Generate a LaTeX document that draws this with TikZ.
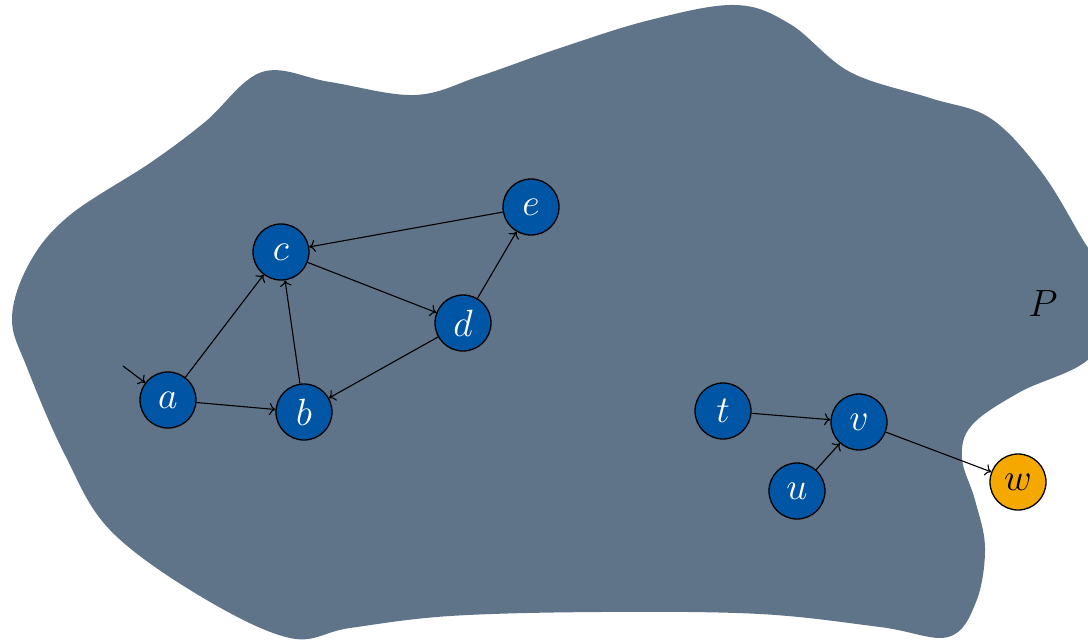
\documentclass[tikz,border=0pt]{standalone}
\usepackage{fix-cm}
\usepackage{amsmath, amssymb}
\usepackage{tikz}
\usetikzlibrary{arrows.meta}
\usepackage{xcolor}

\definecolor{regionfill}{RGB}{95,116,137}
\definecolor{vertexblue}{RGB}{0,85,164}
\definecolor{vertexorange}{RGB}{245,168,0}

\begin{document}
\begin{tikzpicture}[x=1pt, y=-1pt, ->, >={To[length=6pt, width=12pt]},
        line width=1.1pt]
    \tikzstyle{vertex} = [circle, draw, line width=1.3pt, fill=vertexblue,
        text=white, minimum size=56pt, inner sep=0pt,
        font=\fontsize{38}{40}\selectfont]
    \tikzstyle{outside} = [vertex, fill=vertexorange, text=black]
    \useasboundingbox (0,0) rectangle (1088,641);
    \clip (0,0) rectangle (1088,641);
    % the region P
    \fill[regionfill] plot[smooth cycle, tension=0.6] coordinates {
        (262,72) (330,82) (415,95) (480,76) (560,48) (650,20) (735,5)
        (790,24) (850,72) (930,98) (990,118) (1040,170) (1080,235)
        (1115,300) (1090,358) (1020,392) (972,425) (962,458) (975,500)
        (985,548) (976,602) (948,637) (880,627) (760,614) (600,612)
        (450,616) (350,628) (290,638) (200,596) (110,530) (65,455)
        (28,370) (12,318) (30,262) (70,215) (150,163) (205,122)};
    \node[font=\fontsize{38}{40}\selectfont] at (1043,304) (P) {$P$};
    % vertices inside P
    \node [vertex] at (168,400) (a) {$a$};
    \node [vertex] at (304,412) (b) {$b$};
    \node [vertex] at (281,252) (c) {$c$};
    \node [vertex] at (463,323) (d) {$d$};
    \node [vertex] at (531,207) (e) {$e$};
    \node [vertex] at (723,411) (t) {$t$};
    \node [vertex] at (797,491) (u) {$u$};
    \node [vertex] at (859,422) (v) {$v$};
    % vertex outside P
    \node [outside] at (1018,482) (w) {$w$};
    \coordinate (start) at (123,366);
    \draw (start) to (a);
    \draw (a) to (c);
    \draw (a) to (b);
    \draw (b) to (c);
    \draw (c) to (d);
    \draw (d) to (b);
    \draw (d) to (e);
    \draw (e) to (c);
    \draw (t) to (v);
    \draw (u) to (v);
    \draw (v) to (w);
\end{tikzpicture}
\end{document}
